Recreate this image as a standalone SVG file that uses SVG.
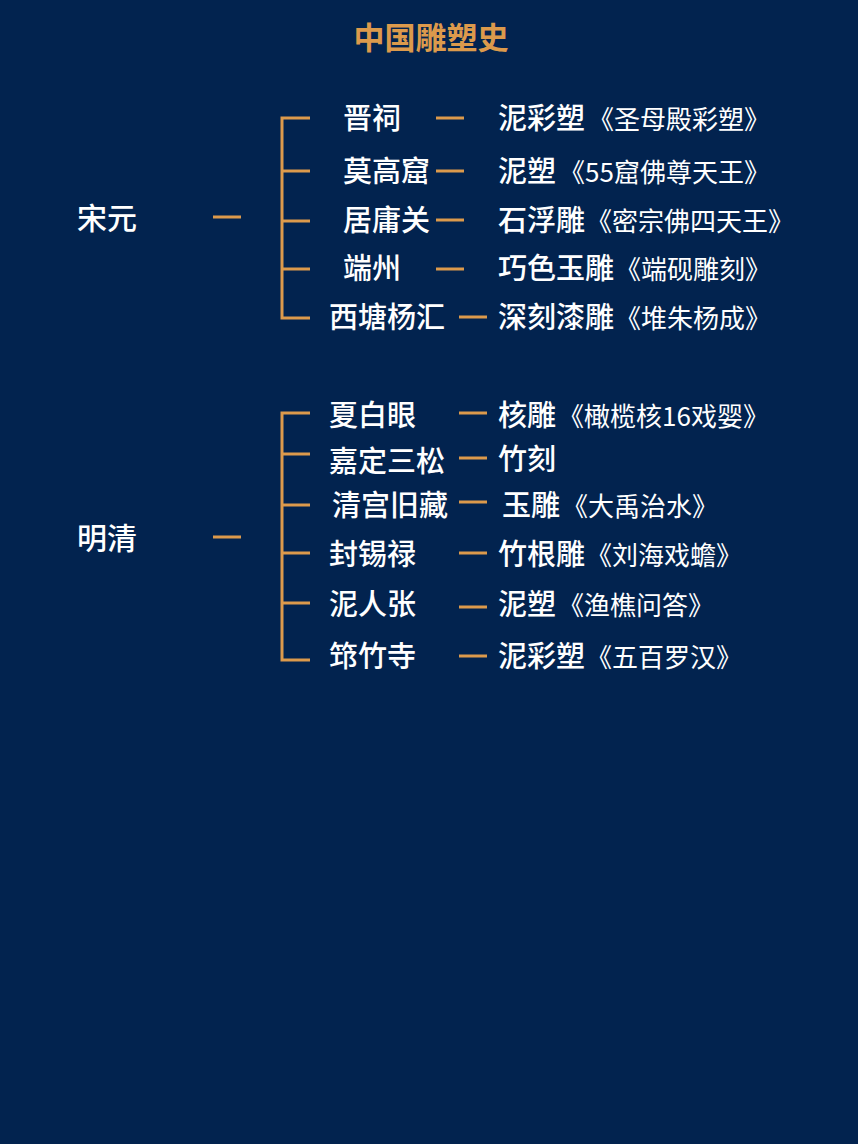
<svg xmlns="http://www.w3.org/2000/svg" width="858" height="1144" viewBox="0 0 858 1144">
<style>
.bg{fill:#02234f}
.ln{stroke:#dc9a4c;stroke-width:3;fill:none;stroke-linecap:butt}
.t{font-family:"Noto Sans CJK SC","Noto Sans",sans-serif;fill:#ffffff;font-size:29px;font-weight:500}
.w{font-family:"Noto Sans CJK SC","Noto Sans",sans-serif;fill:#ffffff;font-size:26px;font-weight:400}
.era{font-family:"Noto Sans CJK SC","Noto Sans",sans-serif;fill:#ffffff;font-size:30px;font-weight:500}
.title{font-family:"Noto Sans CJK SC","Noto Sans",sans-serif;fill:#dc9a4c;font-size:31px;font-weight:700}
</style>
<rect class="bg" x="0" y="0" width="858" height="1144"/>
<text class="title" x="431" y="49" text-anchor="middle">中国雕塑史</text>

<g id="connectors">
<path class="ln" d="M213 217H241"/>
<path class="ln" d="M310 118H282V318H310M282 171H310M282 221H310M282 269H310"/>
<path class="ln" d="M436 118H464M436 171H464M436 220H464M436 269H464M459 317H487"/>
<path class="ln" d="M213 537H241"/>
<path class="ln" d="M310 413H282V660H310M282 454H310M282 505H310M282 553H310M282 603H310"/>
<path class="ln" d="M459 413H487M459 458H487M459 502H487M459 553H487M459 607H487M459 656H487"/>
</g>

<g id="era-songyuan"><text class="era" x="77" y="229">宋元</text></g>
<g id="era-mingqing"><text class="era" x="77" y="549">明清</text></g>

<g id="n-jinci"><text class="t" x="343" y="129">晋祠</text></g>
<g id="n-mogaoku"><text class="t" x="343" y="182">莫高窟</text></g>
<g id="n-juyongguan"><text class="t" x="343" y="231">居庸关</text></g>
<g id="n-duanzhou"><text class="t" x="343" y="279">端州</text></g>
<g id="n-xitang"><text class="t" x="329" y="328">西塘杨汇</text></g>

<g id="w-jinci"><text class="t" x="498" y="129">泥彩塑<tspan class="w" dx="3">《圣母殿彩塑》</tspan></text></g>
<g id="w-mogaoku"><text class="t" x="498" y="182">泥塑<tspan class="w" dx="3">《55窟佛尊天王》</tspan></text></g>
<g id="w-juyongguan"><text class="t" x="498" y="231">石浮雕<tspan class="w" dx="1">《密宗佛四天王》</tspan></text></g>
<g id="w-duanzhou"><text class="t" x="498" y="279">巧色玉雕<tspan class="w" dx="1">《端砚雕刻》</tspan></text></g>
<g id="w-xitang"><text class="t" x="498" y="328">深刻漆雕<tspan class="w" dx="1">《堆朱杨成》</tspan></text></g>

<g id="n-xiabaiyan"><text class="t" x="329" y="426">夏白眼</text></g>
<g id="n-jiading"><text class="t" x="329" y="472">嘉定三松</text></g>
<g id="n-qinggong"><text class="t" x="332" y="516">清宫旧藏</text></g>
<g id="n-fengxilu"><text class="t" x="329" y="565">封锡禄</text></g>
<g id="n-nirenzhang"><text class="t" x="329" y="615">泥人张</text></g>
<g id="n-qiongzhusi"><text class="t" x="329" y="667">筇竹寺</text></g>

<g id="w-xiabaiyan"><text class="t" x="498" y="426">核雕<tspan class="w" dx="2">《橄榄核16戏婴》</tspan></text></g>
<g id="w-jiading"><text class="t" x="498" y="470">竹刻</text></g>
<g id="w-qinggong"><text class="t" x="502" y="516">玉雕<tspan class="w" dx="2">《大禹治水》</tspan></text></g>
<g id="w-fengxilu"><text class="t" x="498" y="565">竹根雕<tspan class="w" dx="1">《刘海戏蟾》</tspan></text></g>
<g id="w-nirenzhang"><text class="t" x="498" y="615">泥塑<tspan class="w" dx="2">《渔樵问答》</tspan></text></g>
<g id="w-qiongzhusi"><text class="t" x="498" y="667">泥彩塑<tspan class="w" dx="1">《五百罗汉》</tspan></text></g>
</svg>
